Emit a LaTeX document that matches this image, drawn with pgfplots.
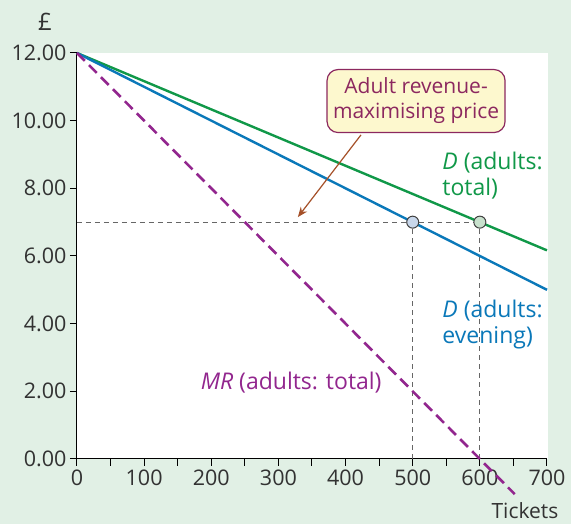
\documentclass[border=0pt]{standalone}
\usepackage{fontspec}
\setmainfont{Open Sans}
\usepackage{pgfplots}
\pgfplotsset{compat=1.18}
\usetikzlibrary{arrows.meta}
\definecolor{bgc}{RGB}{225,240,229}
\definecolor{dgreen}{RGB}{16,152,72}
\definecolor{dblue}{RGB}{10,120,185}
\definecolor{mrpurple}{RGB}{146,38,142}
\definecolor{boxfill}{RGB}{253,248,206}
\definecolor{boxline}{RGB}{140,40,95}
\definecolor{arrowc}{RGB}{165,80,40}
\definecolor{txt}{RGB}{50,50,50}
\newcommand{\tkl}{\fontsize{21.5}{26}\selectfont}
\newcommand{\lbl}{\fontsize{23}{26}\selectfont}
\begin{document}
\begin{tikzpicture}[x=1pt,y=1pt]
\useasboundingbox (0,0) rectangle (571,524);
\fill[bgc] (0,0) rectangle (571,524);
\fill[white] (77,65) rectangle (548,471);
\begin{axis}[
  at={(77pt,65pt)}, anchor=south west,
  scale only axis, width=470pt, height=406pt,
  xmin=0, xmax=700, ymin=0, ymax=12,
  axis x line*=bottom, axis y line*=left,
  axis line style={-, black, line width=1pt},
  xtick={0,100,...,700}, minor xtick={50,150,...,650},
  ytick={0,2,...,12},
  tick align=outside, major tick length=7pt, minor tick length=7pt,
  tick style={black, line width=1pt},
  ticklabel style={font=\tkl, text=txt},
  yticklabel style={/pgf/number format/.cd, fixed, fixed zerofill, precision=2},
  /pgf/number format/assume math mode=true,
  clip=false,
]
% guide lines
\addplot[gray!80!black, line width=0.9pt, dash pattern=on 5pt off 4pt] coordinates {(0,7) (600,7)};
\addplot[gray!80!black, line width=0.9pt, dash pattern=on 5pt off 4pt] coordinates {(500,0) (500,7)};
\addplot[gray!80!black, line width=0.9pt, dash pattern=on 5pt off 4pt] coordinates {(600,0) (600,7)};
% demand and MR
\addplot[dgreen, line width=2.4pt] coordinates {(0,12) (700,6.1667)};
\addplot[dblue, line width=2.4pt] coordinates {(0,12) (700,5)};
\addplot[mrpurple, line width=2.6pt, dash pattern=on 11pt off 6pt] coordinates {(0,12) (652,-1.04)};
% points
\addplot[only marks, mark=*, mark size=6pt, mark options={fill={rgb,255:red,200;green,215;blue,235}, draw=gray!50!black, line width=1pt}] coordinates {(500,7)};
\addplot[only marks, mark=*, mark size=6pt, mark options={fill={rgb,255:red,200;green,225;blue,205}, draw=gray!50!black, line width=1pt}] coordinates {(600,7)};
% labels
\node[anchor=west, align=left, text=dgreen, font=\lbl, inner sep=0pt] at (axis cs:544,8.38) {\textit{D} (adults:\\total)};
\node[anchor=west, align=left, text=dblue, font=\lbl, inner sep=0pt] at (axis cs:544,3.97) {\textit{D} (adults:\\evening)};
\node[text=mrpurple, font=\lbl, inner sep=0pt] at (axis cs:319,2.25) {\textit{MR} (adults: total)};
\draw[arrowc, line width=1.2pt, -{Stealth[length=10pt,width=8pt]}] (axis cs:423,9.58) -- (axis cs:329,7.15);
\node[draw=boxline, fill=boxfill, line width=1.2pt, rounded corners=11pt, minimum width=178pt, minimum height=63pt, align=center, text=boxline, font=\fontsize{21}{25}\selectfont] at (axis cs:505,10.58) {Adult revenue-\\maximising price};
\end{axis}
\node[text=txt, font=\fontsize{24}{26}\selectfont] at (45,502) {£};
\node[text=txt, font=\fontsize{21}{26}\selectfont, inner sep=0pt, anchor=base] at (525,5) {Tickets};
\end{tikzpicture}
\end{document}
